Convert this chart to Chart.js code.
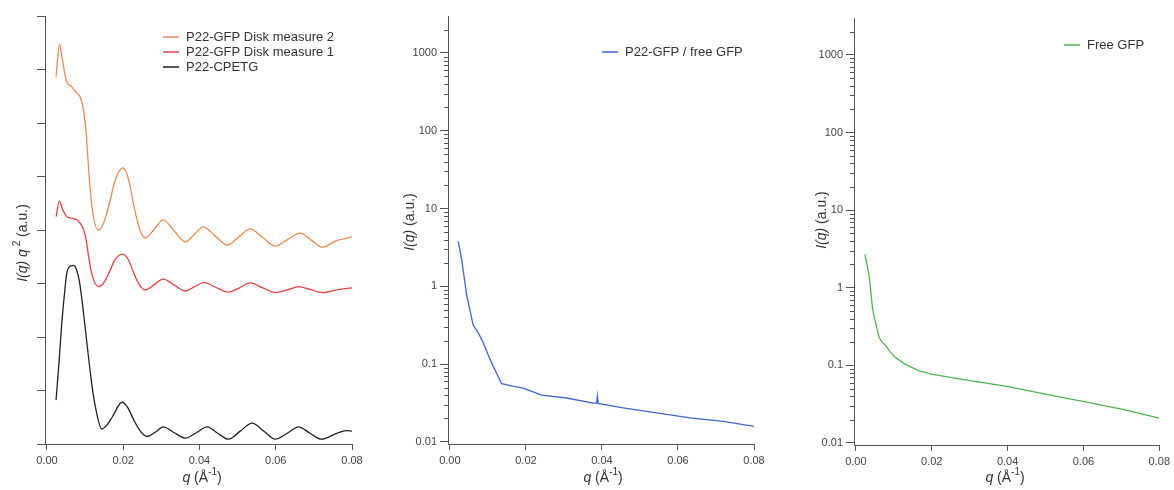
<!DOCTYPE html>
<html lang="en">
<head>
<meta charset="UTF-8">
<title>P22 SAXS profiles</title>
<script src="https://cdn.jsdelivr.net/npm/chart.js@4.4.1/dist/chart.umd.min.js"></script>
<style>
  body { margin: 0; background: #fff; }
  .panel { position: absolute; top: 0; height: 490px; }
</style>
</head>
<body>
<div class="panel" style="left:0;width:390px"><canvas id="c1"></canvas></div>
<div class="panel" style="left:390px;width:390px"><canvas id="c2"></canvas></div>
<div class="panel" style="left:780px;width:394px"><canvas id="c3"></canvas></div>
<script>
// ---- data ----
const xTicks = [0, 0.02, 0.04, 0.06, 0.08];
const xTickLabels = ['0.00', '0.02', '0.04', '0.06', '0.08'];
const leftYTicks = [0, 1, 2, 3, 4, 5, 6, 7, 8];
const logMajors = [0.01, 0.1, 1, 10, 100, 1000];
const logTickLabels = ['0.01', '0.1', '1', '10', '100', '1000'];

const qOrange = [0.0024,0.0033,0.0040,0.0052,0.0065,0.0079,0.0087,0.0096,0.0103,0.0109,0.0118,0.0135,0.0150,0.0166,0.0179,0.0199,0.0214,0.0228,0.0243,0.0258,0.0282,0.0305,0.0334,0.0363,0.0387,0.0410,0.0441,0.0473,0.0503,0.0533,0.0566,0.0599,0.0631,0.0664,0.0693,0.0722,0.0760,0.0800];
const orange = [6.87,7.47,7.20,6.77,6.68,6.55,6.49,6.24,5.81,5.18,4.44,4.00,4.15,4.56,4.93,5.16,4.95,4.45,4.02,3.85,4.02,4.19,3.98,3.78,3.92,4.06,3.89,3.72,3.87,4.02,3.86,3.70,3.82,3.94,3.81,3.68,3.80,3.87];

const qRed = [0.0024,0.0033,0.0040,0.0052,0.0065,0.0079,0.0087,0.0096,0.0103,0.0109,0.0118,0.0135,0.0150,0.0166,0.0179,0.0199,0.0214,0.0228,0.0243,0.0258,0.0282,0.0305,0.0334,0.0363,0.0387,0.0412,0.0442,0.0476,0.0505,0.0533,0.0566,0.0599,0.0630,0.0660,0.0690,0.0722,0.0760,0.0800];
const red = [4.25,4.54,4.40,4.25,4.22,4.19,4.13,4.01,3.81,3.52,3.17,2.94,3.02,3.25,3.45,3.55,3.44,3.19,2.97,2.88,2.98,3.08,2.97,2.86,2.94,3.02,2.93,2.84,2.92,3.01,2.92,2.83,2.88,2.94,2.89,2.83,2.88,2.92];

const qBlack = [0.0024,0.0032,0.0039,0.0046,0.0052,0.0063,0.0070,0.0077,0.0085,0.0092,0.0100,0.0109,0.0118,0.0127,0.0144,0.0158,0.0171,0.0197,0.0212,0.0227,0.0245,0.0262,0.0284,0.0305,0.0334,0.0363,0.0392,0.0420,0.0448,0.0476,0.0507,0.0538,0.0569,0.0599,0.0630,0.0660,0.0690,0.0720,0.0760,0.0785,0.0800];
const black = [0.82,1.55,2.26,2.80,3.19,3.33,3.34,3.27,3.05,2.69,2.20,1.63,1.10,0.70,0.28,0.36,0.50,0.78,0.68,0.46,0.24,0.14,0.22,0.32,0.21,0.11,0.21,0.32,0.20,0.09,0.24,0.39,0.24,0.09,0.20,0.32,0.20,0.09,0.20,0.25,0.24];

const qBlue = [0.0022,0.0031,0.0044,0.0061,0.0075,0.0088,0.0101,0.0114,0.0136,0.0165,0.0193,0.0241,0.0307,0.0377,0.0386,0.0388,0.0390,0.0456,0.0544,0.0632,0.0719,0.0800];
const blue = [3.79,2.2,0.78,0.32,0.25,0.187,0.13,0.094,0.056,0.052,0.049,0.040,0.0367,0.0316,0.0315,0.039,0.0313,0.0274,0.0236,0.0204,0.0184,0.0158];

const qGreen = [0.0024,0.0035,0.0044,0.0052,0.0061,0.0069,0.0079,0.0090,0.0101,0.0116,0.0131,0.0166,0.0199,0.0280,0.0394,0.0500,0.0598,0.0701,0.0800];
const green = [2.68,1.41,0.53,0.35,0.23,0.20,0.178,0.15,0.13,0.115,0.103,0.085,0.077,0.066,0.054,0.0426,0.0343,0.0273,0.0209];

// ---- helpers ----
const FONT = '"Liberation Sans", Arial, sans-serif';
Chart.defaults.font.family = FONT;
Chart.defaults.color = '#444';

const pts = (q, v) => q.map((x, i) => ({ x: x, y: v[i] }));

function drawParts(ctx, parts, x, y, rot, size) {
  ctx.save();
  ctx.translate(x, y);
  ctx.rotate(rot);
  ctx.textBaseline = 'middle';
  ctx.fillStyle = '#333';
  const fontFor = p => (p.i ? 'italic ' : '') + (p.sup ? Math.round(size * 0.7) : size) + 'px ' + FONT;
  let total = 0;
  parts.forEach(p => { ctx.font = fontFor(p); p.w = ctx.measureText(p.t).width; total += p.w; });
  let cx = -total / 2;
  parts.forEach(p => {
    ctx.font = fontFor(p);
    ctx.fillText(p.t, cx, p.sup ? -size * 0.4 : 0);
    cx += p.w;
  });
  ctx.restore();
}

// titles, legend, minor log ticks
const panelText = {
  id: 'panelText',
  afterDraw(chart, args, opts) {
    const ctx = chart.ctx;
    drawParts(ctx, opts.yTitle, opts.yTitlePos[0], opts.yTitlePos[1], -Math.PI / 2, 14);
    drawParts(ctx, opts.xTitle, opts.xTitlePos[0], opts.xTitlePos[1], 0, 14);

    ctx.save();
    ctx.font = '13px ' + FONT;
    ctx.textBaseline = 'middle';
    chart.data.datasets.forEach((ds, i) => {
      const y = opts.legend.y + i * 15;
      ctx.strokeStyle = ds.borderColor;
      ctx.lineWidth = 1.5;
      ctx.beginPath();
      ctx.moveTo(opts.legend.x - 23, y);
      ctx.lineTo(opts.legend.x - 7, y);
      ctx.stroke();
      ctx.fillStyle = '#333';
      ctx.fillText(ds.label, opts.legend.x, y);
    });

    const ys = chart.scales.y;
    if (ys.type === 'logarithmic') {
      ctx.strokeStyle = '#555';
      ctx.lineWidth = 1;
      ys.ticks.forEach(t => {
        if (t.major) return;
        const py = Math.round(ys.getPixelForValue(t.value)) + 0.5;
        ctx.beginPath();
        ctx.moveTo(ys.right - 4, py);
        ctx.lineTo(ys.right, py);
        ctx.stroke();
      });
    }
    ctx.restore();
  }
};

function logTickList(min, max) {
  const list = [];
  logMajors.concat([10000]).forEach(p => {
    for (let m = 1; m <= 9; m++) {
      const v = Number((m * p).toPrecision(3));
      if (v >= min && v <= max) list.push({ value: v, major: m === 1 });
    }
  });
  return list;
}

function makePanel(id, cfg) {
  const isLog = cfg.yType === 'logarithmic';
  new Chart(document.getElementById(id), {
    type: 'line',
    data: { datasets: cfg.datasets },
    plugins: [panelText],
    options: {
      responsive: true,
      maintainAspectRatio: false,
      animation: false,
      events: [],
      layout: { padding: { top: cfg.padTop, right: cfg.padRight, left: 0, bottom: 0 } },
      plugins: {
        legend: { display: false },
        tooltip: { enabled: false },
        panelText: cfg.text
      },
      scales: {
        x: {
          type: 'linear',
          min: -0.0005,
          max: 0.08,
          afterBuildTicks: s => { s.ticks = xTicks.map(v => ({ value: v })); },
          afterFit: s => { s.height = cfg.xHeight; },
          ticks: {
            autoSkip: false, maxRotation: 0, padding: 4,
            font: { size: 11 }, color: '#444',
            callback: (v, i) => xTickLabels[i]
          },
          grid: { drawOnChartArea: false, tickLength: 6, tickColor: '#555' },
          border: { color: '#555', width: 1 }
        },
        y: {
          type: cfg.yType,
          min: cfg.yMin,
          max: cfg.yMax,
          afterBuildTicks: s => {
            s.ticks = isLog ? logTickList(cfg.yMin, cfg.yMax) : leftYTicks.map(v => ({ value: v, major: true }));
          },
          afterFit: s => { s.width = cfg.yWidth; },
          ticks: {
            autoSkip: false, padding: 3,
            font: { size: 11 }, color: '#444',
            callback: (v, i, ticks) => {
              if (!isLog) return '';
              const k = logMajors.indexOf(ticks[i].value);
              return k >= 0 ? logTickLabels[k] : '';
            }
          },
          grid: {
            drawOnChartArea: false, tickLength: 8,
            tickColor: c => (c.tick && c.tick.major) ? '#555' : 'rgba(0,0,0,0)'
          },
          border: { color: '#555', width: 1 }
        }
      }
    }
  });
}

const line = (label, q, v, color, smooth) => ({
  label: label, data: pts(q, v), borderColor: color, borderWidth: 1.3,
  pointRadius: 0, fill: false,
  cubicInterpolationMode: smooth ? 'monotone' : 'default', tension: 0
});

const xTitle = [{ t: 'q', i: 1 }, { t: ' (Å' }, { t: '-1', sup: 1 }, { t: ')' }];

makePanel('c1', {
  yType: 'linear', yMin: 0, yMax: 8, yWidth: 45, xHeight: 46, padTop: 16, padRight: 38,
  datasets: [
    line('P22-GFP Disk measure 2', qOrange, orange, '#f08a4e', true),
    line('P22-GFP Disk measure 1', qRed, red, '#e8413f', true),
    line('P22-CPETG', qBlack, black, '#222222', true)
  ],
  text: {
    yTitle: [{ t: 'I(q) q', i: 1 }, { t: ' 2', sup: 1 }, { t: ' (a.u.)' }], yTitlePos: [23, 243],
    xTitle: xTitle, xTitlePos: [202, 478],
    legend: { x: 186, y: 37 }
  }
});

makePanel('c2', {
  yType: 'logarithmic', yMin: 0.0094, yMax: 2990, yWidth: 58, xHeight: 46, padTop: 16, padRight: 26,
  datasets: [line('P22-GFP / free GFP', qBlue, blue, '#3b66e0', false)],
  text: {
    yTitle: [{ t: 'I(q)', i: 1 }, { t: ' (a.u.)' }], yTitlePos: [20, 222],
    xTitle: xTitle, xTitlePos: [213, 478],
    legend: { x: 235, y: 52 }
  }
});

makePanel('c3', {
  yType: 'logarithmic', yMin: 0.0094, yMax: 2990, yWidth: 74, xHeight: 45, padTop: 18, padRight: 13,
  datasets: [line('Free GFP', qGreen, green, '#4cb84c', false)],
  text: {
    yTitle: [{ t: 'I(q)', i: 1 }, { t: ' (a.u.)' }], yTitlePos: [42, 220],
    xTitle: xTitle, xTitlePos: [225, 478],
    legend: { x: 307, y: 45 }
  }
});
</script>
</body>
</html>
